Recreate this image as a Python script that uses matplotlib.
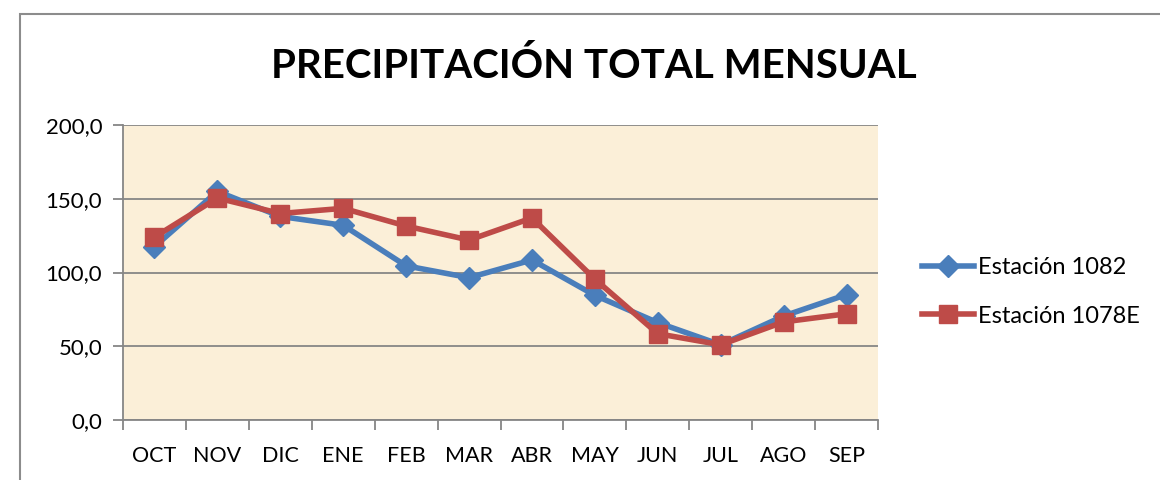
import matplotlib
matplotlib.use("Agg")
import matplotlib.pyplot as plt
from matplotlib.patches import Rectangle
import numpy as np

months = ["OCT", "NOV", "DIC", "ENE", "FEB", "MAR", "ABR", "MAY", "JUN", "JUL", "AGO", "SEP"]
est_1082 = [117.5, 155.0, 138.0, 132.0, 104.5, 96.5, 108.5, 84.5, 66.0, 51.0, 70.5, 85.0]
est_1078E = [124.0, 150.5, 140.0, 143.5, 131.5, 122.0, 137.0, 95.5, 58.5, 51.0, 66.5, 72.0]
yticks = [0, 50, 100, 150, 200]
title = "PRECIPITACIÓN TOTAL MENSUAL"
labels = ["Estación 1082", "Estación 1078E"]

plt.rcParams['font.family'] = ['Lato', 'DejaVu Sans']

W, H = 1160, 480
fig = plt.figure(figsize=(W/100, H/100), dpi=100)
fig.patch.set_facecolor('white')

# outer chart border
fig.patches.append(Rectangle((20/W, -0.01), 1.2, 1 - 14/H + 0.01, transform=fig.transFigure,
                             fill=False, edgecolor='#8c8c8c', linewidth=1.5, zorder=0))

ax = fig.add_axes([123/W, 1 - 420/H, (878-123)/W, (420-125)/H])
ax.set_facecolor('#FBEFD8')

x = np.arange(len(months)) + 0.5
ax.plot(x, est_1082, color='#4A7EBB', linewidth=4, marker='D', markersize=11,
        label=labels[0], zorder=3)
ax.plot(x, est_1078E, color='#BE4B48', linewidth=4, marker='s', markersize=13,
        label=labels[1], zorder=4)

ax.set_xlim(0, len(months))
ax.set_ylim(0, 200)
ax.set_yticks(yticks)
ax.set_yticklabels([f"{v:.1f}".replace('.', ',') for v in yticks], fontsize=16)
ax.set_xticks(np.arange(len(months) + 1))
ax.set_xticklabels([])
ax.set_xticks(x, minor=True)
ax.set_xticklabels(months, minor=True, fontsize=15.5)
ax.tick_params(axis='x', which='major', length=7, color='#868686', width=1.3)
ax.tick_params(axis='x', which='minor', length=0, pad=19)
ax.tick_params(axis='y', length=7, color='#868686', width=1.3, pad=8)
ax.grid(axis='y', color='#868686', linewidth=1.3)
ax.set_axisbelow(True)
for s in ['top', 'right']:
    ax.spines[s].set_visible(False)
for s in ['left', 'bottom']:
    ax.spines[s].set_color('#868686')
    ax.spines[s].set_linewidth(1.3)

fig.text(594/W, 1 - 66/H, title, ha='center', va='center', fontsize=29, fontweight='bold')

fig.legend(loc='center left', bbox_to_anchor=(901/W, 1 - 292/H), frameon=False,
           fontsize=17, handlelength=2.2, labelspacing=1.15, handletextpad=0.15)

fig.savefig("out.png", dpi=100)
